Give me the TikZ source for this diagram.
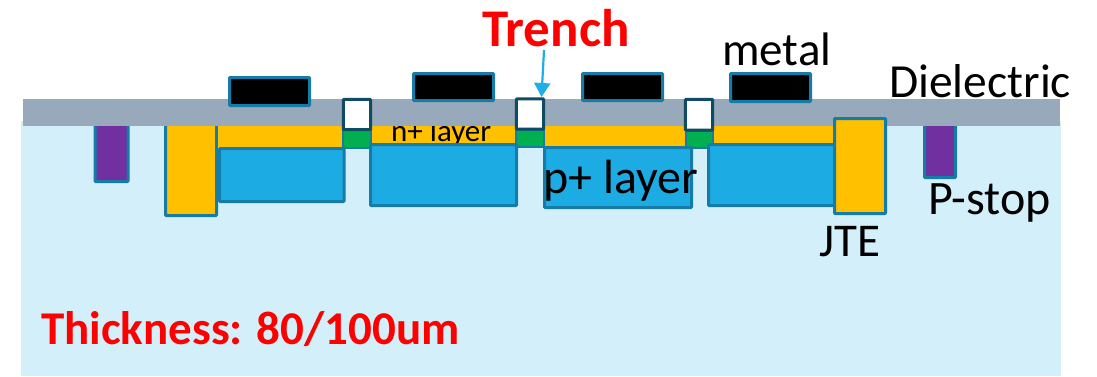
\documentclass[tikz,border=0pt]{standalone}
\usepackage{fontspec}
\setmainfont{Carlito}
\usetikzlibrary{arrows.meta}
\definecolor{subst}{HTML}{D3EFFA}
\definecolor{diel}{HTML}{97A9BB}
\definecolor{edge}{HTML}{157CA8}
\definecolor{tedge}{HTML}{0F4C63}
\definecolor{pblue}{HTML}{1DABE4}
\definecolor{orng}{HTML}{FFC000}
\definecolor{grn}{HTML}{00AF50}
\definecolor{purp}{HTML}{7030A0}
\definecolor{arrowc}{HTML}{1FAEE5}
\tikzset{
  x=1pt,y=-1pt,
  part/.style={draw=edge,line width=3pt,rounded corners=0.8pt},
  player/.style={part,fill=pblue},
  jte/.style={part,fill=orng},
  pstop/.style={part,fill=purp},
  metalbox/.style={part,fill=black},
  trenchbox/.style={draw=tedge,line width=3pt,rounded corners=0.8pt,fill=white},
  greenbox/.style={fill=grn,draw=edge,line width=1.2pt},
  strip/.style={fill=orng},
  lab/.style={anchor=base west,inner sep=0pt,text=black,font=\fontsize{#1}{#1}\selectfont},
  redlab/.style={anchor=base west,inner sep=0pt,text=red,font=\fontsize{#1}{#1}\selectfont\bfseries},
}
\begin{document}
\begin{tikzpicture}
\useasboundingbox (0,0) rectangle (1097,376);
\fill[white] (0,0) rectangle (1097,376);
% substrate
\fill[subst] (21,121) rectangle (1061,376);
% p-stops and left JTE start under the dielectric
\draw[pstop] (95,115) rectangle (128,181.5);
\draw[pstop] (924.5,115) rectangle (955.5,177.5);
\draw[jte] (165.5,115) rectangle (216.5,215.5);
% orange strips
\fill[strip] (218,126) rectangle (343,147);
\fill[strip] (371,126) rectangle (516,147);
\fill[strip] (544,126) rectangle (686,147);
\fill[strip] (714,126) rectangle (835,146);
\node[lab=31] (nlayer) at (391,141) {n+ layer};
% dielectric
\fill[diel] (23,99) rectangle (1060,126);
% green implants
\draw[greenbox] (343,130) rectangle (371,148);
\draw[greenbox] (516,130) rectangle (544,147);
\draw[greenbox] (686,131) rectangle (713,148);
% p+ blocks
\draw[player] (219.5,148.5) rectangle (344,201.5);
\draw[player] (370.5,144.5) rectangle (516.5,205.5);
\draw[player] (544.5,147.5) rectangle (691.5,207.5);
\draw[player] (708.5,144.5) rectangle (836,205.5);
% right JTE
\draw[jte] (834.5,118.5) rectangle (885.5,213.5);
% metals
\draw[metalbox] (229.5,77.5) rectangle (309.5,105.5);
\draw[metalbox] (413.5,73.5) rectangle (493.5,100.5);
\draw[metalbox] (582.5,73.5) rectangle (662.5,100.5);
\draw[metalbox] (730.5,73.5) rectangle (810.5,101.5);
% trenches
\draw[trenchbox] (343.3,99.3) rectangle (370.7,129.5);
\draw[trenchbox] (516.3,98.8) rectangle (543.7,129);
\draw[trenchbox] (685.3,99.3) rectangle (712.7,130);
\coordinate (trenchtop) at (541.5,97);
\coordinate (trenchstart) at (544,50);
% labels
\node[redlab=53] (trench) at (482,46) {Trench};
\node[lab=47] (metal) at (722,65) {metal};
\node[lab=47.5] (dielectric) at (889,97) {Dielectric};
\node[lab=48] (player) at (543,193) {p+ layer};
\node[lab=48] (pstoplab) at (928,214) {P-stop};
\node[lab=47] (jtelab) at (819,256) {JTE};
\node[redlab=47] (thick) at (41,344) {Thickness: 80/100um};
\draw[arrowc,line width=2.2pt,-{Triangle[length=14pt,width=16pt]}] (trenchstart) -- (trenchtop);
\end{tikzpicture}
\end{document}
